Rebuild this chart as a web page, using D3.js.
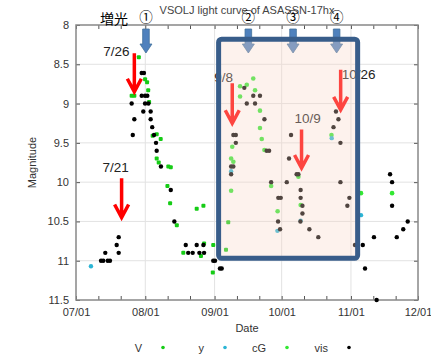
<!DOCTYPE html>
<html lang="ja">
<head>
<meta charset="UTF-8">
<title>VSOLJ light curve of ASASSN-17hx</title>
<script src="https://cdn.jsdelivr.net/npm/d3@7"></script>
<style>
  body { margin: 0; background: #fff; }
  svg { display: block; font-family: "Liberation Sans", Arial, sans-serif; }
</style>
</head>
<body>
<svg id="chart" width="431" height="355"></svg>
<script>
// observations: [date "M/D.d" (2017, UT), magnitude]
var visObs = [
  ["7/12.2", 11.0], ["7/13.2", 11.0], ["7/15.2", 11.0], ["7/16.2", 11.0], ["7/14.1", 10.9], ["7/19.2", 10.8],
  ["7/20.1", 10.7], ["7/20.1", 10.9],
  ["7/30.4", 8.61], ["7/31.4", 8.61], ["7/30.4", 8.9], ["7/31.9", 8.9], ["8/1.9", 8.9], ["7/25.9", 9.0],
  ["7/31.9", 9.0], ["8/2.4", 9.0], ["7/31.1", 9.1], ["8/3.4", 9.1], ["7/27.1", 9.2], ["8/3.4", 9.2],
  ["8/4.1", 9.3], ["7/26.4", 9.4], ["8/4.9", 9.4], ["8/5.8", 9.5], ["8/6.1", 9.6], ["8/8.0", 9.8],
  ["8/12.4", 10.1], ["8/14.0", 10.5],
  ["8/19.1", 10.8], ["8/24.0", 10.8], ["8/27.0", 10.8], ["8/20.2", 10.9], ["8/22.2", 10.9], ["8/25.2", 10.9],
  ["8/27.3", 10.9], ["8/31.4", 11.0], ["9/1.2", 11.0], ["9/3.4", 11.1], ["9/4.2", 11.1],
  ["9/14.3", 8.8], ["9/18.3", 8.9], ["9/21.3", 8.9], ["9/15.4", 9.0], ["9/19.1", 9.0], ["9/23.3", 9.2],
  ["9/9.4", 9.4], ["9/10.5", 9.4], ["9/10.5", 9.5], ["9/8.4", 9.8], ["9/9.4", 9.8], ["9/8.4", 9.9],
  ["9/24.3", 9.6], ["9/25.4", 9.6], ["9/26.3", 10.0],
  ["10/5.2", 9.4], ["10/4.3", 9.7], ["10/7.7", 9.9], ["10/8.5", 9.9], ["10/3.3", 10.0], ["10/9.5", 10.1],
  ["9/29.5", 10.2], ["9/30.6", 10.2], ["10/9.5", 10.2], ["10/10.3", 10.3], ["10/10.3", 10.4], ["9/29.4", 10.5],
  ["10/9.4", 10.5], ["9/30.3", 10.6], ["10/13.4", 10.6], ["10/17.4", 10.7],
  ["10/25.3", 9.1], ["10/26.4", 9.2], ["10/24.2", 9.3], ["10/27.3", 9.5], ["10/27.3", 10.0], ["10/31.3", 10.2],
  ["10/30.4", 10.3],
  ["11/2.8", 10.8], ["11/6.3", 10.8], ["11/7.3", 11.1], ["11/11.3", 10.7], ["11/12.5", 11.5], ["11/18.5", 9.9],
  ["11/19.4", 10.0], ["11/19.4", 10.3], ["11/21.5", 10.7], ["11/24.4", 10.6], ["11/26.4", 10.5]
];
var vObs = [
  ["7/29.1", 8.41], ["7/31.9", 8.69], ["8/1.8", 8.73], ["8/2.3", 8.83], ["7/25.9", 8.90], ["7/27.1", 8.90],
  ["8/2.7", 8.98], ["8/4.3", 9.41], ["8/6.1", 9.39], ["8/7.9", 9.45], ["8/6.1", 9.70], ["8/7.0", 9.75],
  ["8/11.3", 9.80], ["8/12.4", 9.81], ["8/10.9", 10.05], ["8/12.1", 10.27], ["8/15.1", 10.55], ["8/24.0", 10.34],
  ["8/27.0", 10.30], ["8/18.0", 10.90], ["8/25.9", 10.94], ["8/27.3", 10.78], ["8/31.4", 10.80], ["8/31.2", 11.15],
  ["9/7.1", 10.51], ["9/6.1", 10.86]
];
var cgObs = [
  ["9/18.3", 8.68], ["9/12.4", 8.78], ["9/15.4", 8.76], ["9/19.1", 8.83], ["9/12.4", 8.91], ["9/21.3", 9.09],
  ["9/21.3", 9.31], ["9/22.1", 9.45], ["9/23.3", 9.59], ["9/26.3", 10.05], ["9/8.9", 9.55], ["9/8.4", 9.70],
  ["9/9.4", 9.74], ["9/8.4", 10.11], ["10/8.5", 9.93], ["10/9.5", 10.29], ["9/29.2", 10.37], ["10/23.3", 9.40],
  ["11/5.5", 10.14], ["11/19.4", 10.14]
];
var yObs = [
  ["7/7.7", 11.07], ["9/8.4", 9.86], ["9/29.1", 10.62], ["10/9.5", 10.49], ["10/23.4", 9.44], ["11/5.5", 10.42]
];

var legendNames = ["V", "y", "cG", "vis"];
var magTicks = [8, 8.5, 9, 9.5, 10, 10.5, 11, 11.5];

// annotations
var phaseLabels = ["①", "②", "③", "④"];
var phaseDates = ["8/1.3", "9/16.1", "10/6.1", "10/25.6"];
var alertLabels = ["7/26", "7/21", "9/8", "10/9", "10/26"];
var alertDates = ["7/27.1", "7/21.4", "9/8.9", "10/9.9", "10/27.4"];
var alertFrom = [8.36, 9.95, 8.74, 9.33, 8.57];
var alertTo = [8.85, 10.45, 9.25, 9.82, 9.08];
var boxDates = ["9/2.8", "11/4.0"];
var boxMags = [8.18, 10.97];

function obsDate(s) {
  var p = s.split("/");
  return new Date(Date.UTC(2017, +p[0] - 1, 1) + (+p[1] - 1) * 864e5);
}

var svg = d3.select("#chart");
var pl = 76, pr = 418, pt = 25, pb = 300;

var x = d3.scaleUtc()
  .domain([new Date(Date.UTC(2017, 6, 1)), new Date(Date.UTC(2017, 11, 1))])
  .range([pl, pr]);
var y = d3.scaleLinear().domain([8, 11.5]).range([pt, pb]);

var monthTicks = x.ticks(d3.utcMonth.every(1));
var dayTicks = x.ticks(d3.utcDay.filter(function(d) { return [1, 11, 21].indexOf(d.getUTCDate()) >= 0; }));

// grid
svg.append("g").selectAll("line").data(monthTicks.slice(1, -1)).enter().append("line")
  .attr("x1", function(d) { return x(d); }).attr("x2", function(d) { return x(d); })
  .attr("y1", pt).attr("y2", pb)
  .attr("stroke", "#e2e2e2");
svg.append("g").selectAll("line").data(magTicks.slice(1, -1)).enter().append("line")
  .attr("x1", pl).attr("x2", pr)
  .attr("y1", function(d) { return y(d); }).attr("y2", function(d) { return y(d); })
  .attr("stroke", "#e2e2e2");

function styleAxis(g) {
  g.select(".domain").remove();
  g.selectAll(".tick line").attr("stroke", "#555");
  g.selectAll(".tick text").attr("fill", "#333").style("font-size", "11px");
}

svg.append("g").attr("transform", "translate(0," + pb + ")")
  .call(d3.axisBottom(x).tickValues(dayTicks).tickSizeInner(-4).tickSizeOuter(0).tickPadding(8)
    .tickFormat(function(d) { return d.getUTCDate() === 1 ? d3.utcFormat("%m/%d")(d) : ""; }))
  .call(styleAxis);
svg.append("g").attr("transform", "translate(0," + pt + ")")
  .call(d3.axisTop(x).tickValues(dayTicks).tickSizeInner(-4).tickSizeOuter(0).tickFormat(""))
  .call(styleAxis);
svg.append("g").attr("transform", "translate(" + pl + ",0)")
  .call(d3.axisLeft(y).tickValues(magTicks).tickSizeInner(-4).tickSizeOuter(0).tickPadding(7)
    .tickFormat(function(d) { return d; }))
  .call(styleAxis);
svg.append("g").attr("transform", "translate(" + pr + ",0)")
  .call(d3.axisRight(y).tickValues(magTicks).tickSizeInner(-4).tickSizeOuter(0).tickFormat(""))
  .call(styleAxis);

svg.append("rect")
  .attr("x", pl).attr("y", pt).attr("width", pr - pl).attr("height", pb - pt)
  .attr("fill", "none").attr("stroke", "#888").attr("stroke-width", 1.5);

// titles
svg.append("text").attr("x", (pl + pr) / 2).attr("y", 13.5).attr("text-anchor", "middle")
  .attr("fill", "#444").style("font-size", "11px").text("VSOLJ light curve of ASASSN-17hx");
svg.append("text").attr("x", (pl + pr) / 2).attr("y", 331.5).attr("text-anchor", "middle")
  .attr("fill", "#333").style("font-size", "11px").text("Date");
svg.append("text").attr("transform", "translate(36," + (pt + pb) / 2 + ") rotate(-90)")
  .attr("text-anchor", "middle").attr("fill", "#333").style("font-size", "11px").text("Magnitude");

// data
var colors = { V: "#16cc16", y: "#2bb5d5", cG: "#33e833", vis: "#000" };

svg.append("g").selectAll("rect").data(vObs).enter().append("rect")
  .attr("x", function(d) { return x(obsDate(d[0])) - 2; })
  .attr("y", function(d) { return y(d[1]) - 2; })
  .attr("width", 4).attr("height", 4).attr("rx", 1)
  .attr("fill", colors.V);
svg.append("g").selectAll("circle").data(cgObs).enter().append("circle")
  .attr("cx", function(d) { return x(obsDate(d[0])); })
  .attr("cy", function(d) { return y(d[1]); })
  .attr("r", 2.3).attr("fill", colors.cG);
svg.append("g").selectAll("circle").data(yObs).enter().append("circle")
  .attr("cx", function(d) { return x(obsDate(d[0])); })
  .attr("cy", function(d) { return y(d[1]); })
  .attr("r", 2.2).attr("fill", colors.y);
svg.append("g").selectAll("circle").data(visObs).enter().append("circle")
  .attr("cx", function(d) { return x(obsDate(d[0])); })
  .attr("cy", function(d) { return y(d[1]); })
  .attr("r", 2.2).attr("fill", colors.vis);

// legend
var legend = svg.append("g").selectAll("g").data(legendNames).enter().append("g")
  .attr("transform", function(d, i) { return "translate(" + (163 + i * 62) + ",347.5)"; });
legend.append("text").attr("x", -21).attr("y", 4).attr("text-anchor", "end")
  .attr("fill", "#333").style("font-size", "11px").text(function(d) { return d; });
legend.append("circle").attr("r", 1.8).attr("fill", function(d) { return colors[d]; });

// brightening markers
svg.append("text").attr("x", 114).attr("y", 23.5).attr("text-anchor", "middle")
  .style("font-family", "'Noto Sans CJK JP', sans-serif").style("font-size", "14px").text("増光");
svg.append("g").selectAll("text").data(phaseLabels).enter().append("text")
  .attr("x", function(d, i) { return x(obsDate(phaseDates[i])); })
  .attr("y", 22).attr("text-anchor", "middle")
  .style("font-family", "'Noto Sans CJK JP', sans-serif").style("font-size", "13.5px")
  .text(function(d) { return d; });
svg.append("g").selectAll("path").data(phaseDates).enter().append("path")
  .attr("d", function(d) {
    var cx = x(obsDate(d));
    return "M" + (cx - 3.3) + ",29 H" + (cx + 3.3) + " V44 H" + (cx + 6) + " L" + cx + ",53 L" + (cx - 6) + ",44 H" + (cx - 3.3) + "Z";
  })
  .attr("fill", "#4f81bd").attr("stroke", "#41719c").attr("stroke-width", 0.8);

// red arrows with dates
var labelDx = [-31, -19, -18, -7, 1];
var labelDy = [2.5, -6.5, -1.5, -7, 9];
var alerts = svg.append("g").selectAll("g").data(alertLabels).enter().append("g");
alerts.append("path")
  .attr("d", function(d, i) {
    var ax = x(obsDate(alertDates[i])), y0 = y(alertFrom[i]), y1 = y(alertTo[i]);
    return "M" + ax + "," + y0 + " V" + (y1 - 2) + " M" + (ax - 7) + "," + (y1 - 13) + " L" + ax + "," + y1 + " L" + (ax + 7) + "," + (y1 - 13);
  })
  .attr("fill", "none").attr("stroke", "#ff0000").attr("stroke-width", 3.5);
alerts.append("text")
  .attr("x", function(d, i) { return x(obsDate(alertDates[i])) + labelDx[i]; })
  .attr("y", function(d, i) { return y(alertFrom[i]) + labelDy[i]; })
  .attr("fill", "#222").style("font-size", "13.5px")
  .text(function(d) { return d; });

// highlighted period
var bx0 = x(obsDate(boxDates[0])), bx1 = x(obsDate(boxDates[1]));
var by0 = y(boxMags[0]), by1 = y(boxMags[1]);
svg.append("rect")
  .attr("x", bx0).attr("y", by0).attr("width", bx1 - bx0).attr("height", by1 - by0)
  .attr("fill", "rgb(250,216,200)").attr("fill-opacity", 0.32);
svg.append("rect")
  .attr("x", bx0).attr("y", by0).attr("width", bx1 - bx0).attr("height", by1 - by0).attr("rx", 3)
  .attr("fill", "none").attr("stroke", "#385d8a").attr("stroke-width", 5);
</script>
</body>
</html>
